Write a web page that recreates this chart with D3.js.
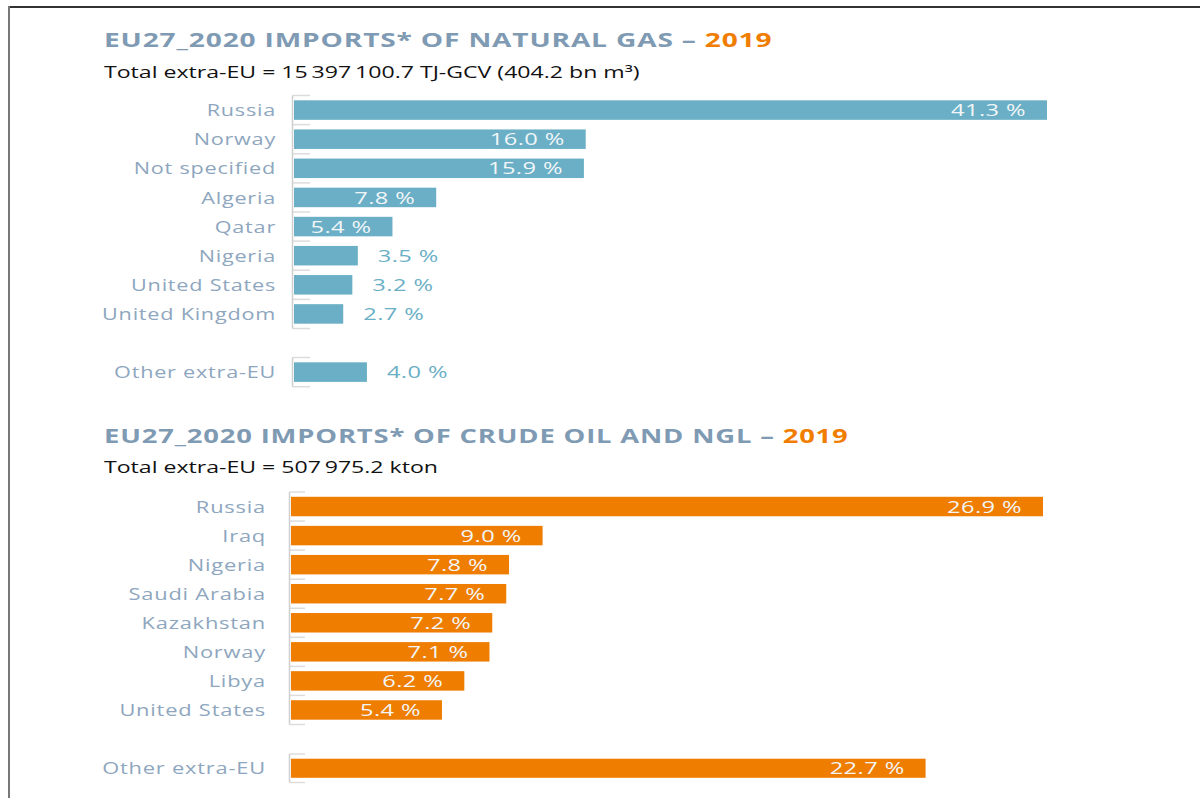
<!DOCTYPE html>
<html>
<head>
<meta charset="utf-8">
<script src="https://cdn.jsdelivr.net/npm/d3@7/dist/d3.min.js"></script>
<style>
  body { margin: 0; background: #fff; }
  svg text { font-family: "Open Sans", sans-serif; }
</style>
</head>
<body>
<div id="chart"></div>
<script>
// data
const year = "2019";

const gasTitle = "EU27_2020 IMPORTS* OF NATURAL GAS \u2013 ";
const gasSubtitle = "Total extra-EU = 15\u2009397\u2009100.7 TJ-GCV (404.2 bn m\u00b3)";
const gasCountries = ["Russia", "Norway", "Not specified", "Algeria", "Qatar", "Nigeria", "United States", "United Kingdom"];
const gasShares = [41.3, 16.0, 15.9, 7.8, 5.4, 3.5, 3.2, 2.7];
const gasOtherLabel = "Other extra-EU";
const gasOtherShare = 4.0;

const oilTitle = "EU27_2020 IMPORTS* OF CRUDE OIL AND NGL \u2013 ";
const oilSubtitle = "Total extra-EU = 507\u2009975.2 kton";
const oilCountries = ["Russia", "Iraq", "Nigeria", "Saudi Arabia", "Kazakhstan", "Norway", "Libya", "United States"];
const oilShares = [26.9, 9.0, 7.8, 7.7, 7.2, 7.1, 6.2, 5.4];
const oilOtherLabel = "Other extra-EU";
const oilOtherShare = 22.7;

const W = 1200, H = 798;
const fmt = v => d3.format(".1f")(v) + " %";

const svg = d3.select("#chart").append("svg")
    .attr("width", W)
    .attr("height", H);

// page frame
svg.append("line").attr("x1", 8).attr("x2", W).attr("y1", 7).attr("y2", 7)
    .attr("stroke", "#333").attr("stroke-width", 2);
svg.append("line").attr("x1", 9).attr("x2", 9).attr("y1", 6).attr("y2", H)
    .attr("stroke", "#777").attr("stroke-width", 2);

// width of a string in the given style
function measure(str, size, weight, spacing) {
    const t = svg.append("text")
        .style("font-size", size + "px")
        .style("font-weight", weight || 400)
        .attr("letter-spacing", spacing || 0)
        .text(str);
    const w = t.node().getComputedTextLength();
    t.remove();
    return w;
}

// the source artwork is stretched sideways, so text gets a horizontal scale
const place = (x, y, sx) => `translate(${x},${y}) scale(${sx},1)`;

function drawPanel(p) {
    const g = svg.append("g");

    // title + year
    const title = g.append("text")
        .style("font-size", "20px")
        .style("font-weight", 700)
        .attr("letter-spacing", 0.6);
    title.append("tspan").attr("fill", "#7f9ab3").text(p.title);
    title.append("tspan").attr("fill", "#f07d00").text(year);
    title.attr("transform", place(104, p.titleY, p.titleW / title.node().getComputedTextLength()));

    const sub = g.append("text")
        .style("font-size", "16px")
        .attr("fill", "#111")
        .text(p.subtitle);
    sub.attr("transform", place(104, p.subY, p.subW / sub.node().getComputedTextLength()));

    const x = d3.scaleLinear()
        .domain([0, d3.max(p.values)])
        .range([p.x0, p.x1]);

    const padIn = 0.33, padOut = 0.165;
    const yMain = d3.scaleBand().domain(p.countries).range(p.mainRange)
        .paddingInner(padIn).paddingOuter(padOut);
    const yOther = d3.scaleBand().domain([p.otherLabel]).range(p.otherRange)
        .paddingInner(padIn).paddingOuter(padOut);

    const rows = p.countries.map((c, i) => ({name: c, value: p.values[i], y: yMain}))
        .concat([{name: p.otherLabel, value: p.otherValue, y: yOther}]);
    const midY = d => d.y(d.name) + d.y.bandwidth() / 2;

    // axis segments with ticks at row edges
    [yMain, yOther].forEach(y => {
        const half = (y.step() - y.bandwidth()) / 2;
        const edges = y.domain().map(d => y(d) - half);
        edges.push(edges[edges.length - 1] + y.step());
        g.selectAll(null).data(edges).enter().append("line")
            .attr("x1", p.x0 - 1.5).attr("x2", p.x0 + p.tickLen)
            .attr("y1", d => d).attr("y2", d => d)
            .attr("stroke", "#dcdcdc").attr("stroke-width", 1.5);
        g.append("line")
            .attr("x1", p.x0 - 1.5).attr("x2", p.x0 - 1.5)
            .attr("y1", edges[0]).attr("y2", edges[edges.length - 1])
            .attr("stroke", "#cfcfcf").attr("stroke-width", 1.5);
    });

    // bars
    g.selectAll(".bar").data(rows).enter().append("rect")
        .attr("class", "bar")
        .attr("x", x(0))
        .attr("y", d => d.y(d.name))
        .attr("width", d => x(d.value) - x(0))
        .attr("height", d => d.y.bandwidth())
        .attr("fill", p.color);

    // category labels
    const lblSx = p.labelW / measure("United Kingdom", 17, 400, 0.6);
    g.selectAll(".lbl").data(rows).enter().append("text")
        .attr("class", "lbl")
        .attr("transform", d => place(p.labelX, midY(d), lblSx))
        .attr("dy", "0.36em")
        .attr("text-anchor", "end")
        .attr("letter-spacing", 0.6)
        .style("font-size", "17px")
        .attr("fill", "#8ea6be")
        .text(d => d.name);

    // value labels, inside when the bar is long enough
    const valSx = 75 / measure("41.3 %", 17, 400, 0.3);
    g.selectAll(".val").data(rows).enter().append("text")
        .attr("class", "val")
        .attr("dy", "0.36em")
        .attr("letter-spacing", 0.3)
        .style("font-size", "17px")
        .text(d => fmt(d.value))
        .each(function(d) {
            const t = d3.select(this);
            const tw = this.getComputedTextLength() * valSx;
            const bw = x(d.value) - x(0);
            if (bw >= tw + 30) {
                t.attr("transform", place(x(d.value) - 21, midY(d), valSx))
                    .attr("text-anchor", "end")
                    .attr("fill", "#f2f6f8");
            } else {
                t.attr("transform", place(x(d.value) + 20, midY(d), valSx))
                    .attr("text-anchor", "start")
                    .attr("fill", p.color);
            }
        });
}

drawPanel({
    title: gasTitle, subtitle: gasSubtitle,
    titleY: 47, titleW: 669, subY: 78, subW: 536,
    countries: gasCountries, values: gasShares,
    otherLabel: gasOtherLabel, otherValue: gasOtherShare,
    x0: 294, x1: 1047, labelX: 276, labelW: 174, tickLen: 16,
    mainRange: [95.5, 328.5], otherRange: [357.5, 386.7],
    color: "#6aafc6"
});

drawPanel({
    title: oilTitle, subtitle: oilSubtitle,
    titleY: 443, titleW: 745, subY: 473, subW: 334,
    countries: oilCountries, values: oilShares,
    otherLabel: oilOtherLabel, otherValue: oilOtherShare,
    x0: 291, x1: 1043, labelX: 266, labelW: 176, tickLen: 14,
    mainRange: [492, 724.5], otherRange: [754, 782.5],
    color: "#ef7d00"
});
</script>
</body>
</html>
